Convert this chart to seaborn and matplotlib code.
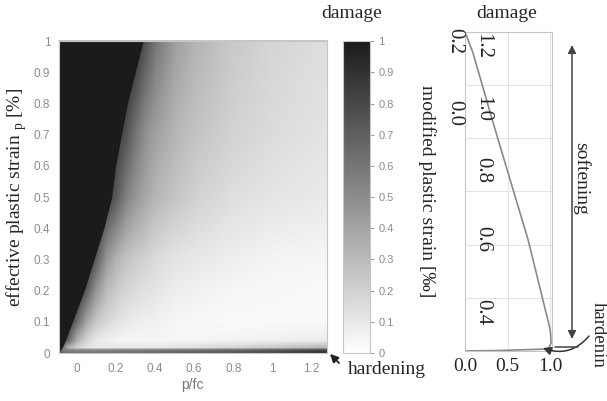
import numpy as np
import pandas as pd
import seaborn as sns
import matplotlib.pyplot as plt
from matplotlib.colors import LinearSegmentedColormap
from matplotlib.image import NonUniformImage

# damage field (rows = plastic strain, cols = p/fc)
grid_x = [-0.09, -0.05, 0.0, 0.05, 0.1, 0.15, 0.2, 0.25, 0.3, 0.35, 0.4, 0.5, 0.6, 0.8, 1.0, 1.28]
grid_y = [0.0, 0.008, 0.016, 0.04, 0.1, 0.2, 0.3, 0.5, 0.7, 1.0]
damage = [
    [0.70, 0.62, 0.60, 0.60, 0.60, 0.61, 0.62, 0.63, 0.64, 0.65, 0.66, 0.68, 0.70, 0.74, 0.80, 0.90],
    [0.60, 0.55, 0.52, 0.52, 0.52, 0.53, 0.54, 0.55, 0.56, 0.57, 0.58, 0.60, 0.62, 0.66, 0.72, 0.82],
    [0.80, 0.35, 0.20, 0.12, 0.10, 0.10, 0.10, 0.10, 0.10, 0.10, 0.10, 0.12, 0.14, 0.18, 0.23, 0.32],
    [0.90, 0.70, 0.35, 0.18, 0.10, 0.07, 0.05, 0.04, 0.04, 0.04, 0.04, 0.04, 0.04, 0.05, 0.06, 0.08],
    [1.00, 0.90, 0.65, 0.38, 0.24, 0.17, 0.13, 0.10, 0.08, 0.07, 0.06, 0.04, 0.03, 0.02, 0.02, 0.02],
    [1.00, 1.00, 0.90, 0.70, 0.45, 0.30, 0.23, 0.18, 0.15, 0.13, 0.11, 0.08, 0.06, 0.04, 0.03, 0.02],
    [1.00, 1.00, 1.00, 0.90, 0.70, 0.45, 0.33, 0.26, 0.22, 0.19, 0.16, 0.12, 0.10, 0.07, 0.05, 0.04],
    [1.00, 1.00, 1.00, 1.00, 1.00, 0.85, 0.72, 0.55, 0.45, 0.38, 0.32, 0.25, 0.20, 0.14, 0.11, 0.09],
    [1.00, 1.00, 1.00, 1.00, 1.00, 1.00, 0.85, 0.75, 0.60, 0.48, 0.41, 0.32, 0.26, 0.19, 0.15, 0.12],
    [1.00, 1.00, 1.00, 1.00, 1.00, 1.00, 1.00, 1.00, 0.90, 0.75, 0.60, 0.42, 0.33, 0.23, 0.18, 0.14],
]

# edge of the fully damaged (black) zone
edge_y = [0.0, 0.02, 0.05, 0.1, 0.2, 0.3, 0.4, 0.5, 0.6, 0.7, 0.8, 0.9, 1.0]
edge_x = [-0.09, -0.07, -0.05, -0.02, 0.04, 0.09, 0.14, 0.18, 0.20, 0.23, 0.26, 0.30, 0.34]

# damage / modified plastic strain curve (right panel)
curve_damage = [0.0, 0.41, 0.976, 1.01, 1.0, 0.74, 0.33, 0.094, 0.024, 0.012]
curve_strain = [0.0, 0.002, 0.0075, 0.03, 0.079, 0.418, 0.858, 1.121, 1.181, 1.19]

cbar_ticks = [0, 0.1, 0.2, 0.3, 0.4, 0.5, 0.6, 0.7, 0.8, 0.9, 1]
x_ticks = [0, 0.2, 0.4, 0.6, 0.8, 1, 1.2]
side_labels = ['1.2', '1.0', '0.8', '0.6', '0.4']

sns.set_style('white')
plt.rcParams['mathtext.fontset'] = 'custom'
plt.rcParams['mathtext.rm'] = 'Liberation Serif'

W, H = 607, 401
fig = plt.figure(figsize=(W / 100, H / 100), dpi=100)


def box(x0, y0, x1, y1):
    return [x0 / W, 1 - y1 / H, (x1 - x0) / W, (y1 - y0) / H]


def px(x, y):
    return x, H - y


serif = 'Liberation Serif'
sans = 'Liberation Sans'
tick_gray = '#8c8c8c'
spine_gray = '#c6c6c6'
cmap = LinearSegmentedColormap.from_list('dmg', ['#ffffff', '#1c1a1a'])

# --- main damage map
ax = fig.add_axes(box(58.7, 41.3, 327, 353))
im = NonUniformImage(ax, interpolation='bilinear', cmap=cmap,
                     extent=(-0.09, 1.278, 0, 1))
im.set_data(grid_x, grid_y, np.array(damage))
im.set_clim(0, 1)
ax.add_image(im)
ax.fill_betweenx(edge_y, -0.1, edge_x, color='#1c1a1a', lw=0)
ax.axhline(1, color=spine_gray, lw=1.4, clip_on=False, zorder=3)
ax.set_xlim(-0.09, 1.278)
ax.set_ylim(0, 1)
ax.set_xticks(x_ticks)
ax.set_xticklabels(['0', '0.2', '0.4', '0.6', '0.8', '1', '1.2'])
ax.set_yticks(cbar_ticks)
ax.set_yticklabels(['0'] + [f'{v:.1f}' for v in cbar_ticks[1:-1]] + ['1'])
ax.tick_params(length=0, labelsize=8.5, colors=tick_gray, pad=6)
ax.tick_params(axis='x', pad=7)
for lab in ax.get_xticklabels() + ax.get_yticklabels():
    lab.set_fontfamily(sans)
for s in ax.spines.values():
    s.set_color(spine_gray)
ax.set_xlabel('p/fc', fontsize=10, color='#777777', family=sans, labelpad=2)
fig.text(17 / W, 1 - 197 / H, r'effective plastic strain ${}_\mathrm{p}$ [%]',
         rotation=90, fontsize=14, family=serif, ha='center', va='center')

# --- colorbar
cax = fig.add_axes(box(343, 41.3, 370, 353))
cb = fig.colorbar(im, cax=cax, ticks=cbar_ticks)
cb.ax.set_yticklabels(['0'] + [f'{v:.1f}' for v in cbar_ticks[1:-1]] + ['1'])
cb.ax.tick_params(length=3, width=0.6, labelsize=8, colors=tick_gray, pad=3)
for lab in cb.ax.get_yticklabels():
    lab.set_fontfamily(sans)
cb.outline.set_edgecolor(spine_gray)

# --- right panel
rax = fig.add_axes(box(465, 32, 552, 351))
df = pd.DataFrame({'damage': curve_damage, 'strain': curve_strain})
sns.lineplot(data=df, x='damage', y='strain', sort=False, ax=rax,
             color='#8a8a8a', lw=1.2)
rax.set_xlim(0, 1.02)
rax.set_ylim(0, 1.2)
rax.set_xticks([0, 0.5, 1.0])
rax.set_xticklabels(['0.0', '0.5', '1.0'], family=serif, fontsize=14)
rax.set_yticks([0, 0.2, 0.4, 0.6, 0.8, 1.0, 1.2])
rax.set_yticklabels([])
rax.grid(True, color='#e4e4e4', lw=0.8)
rax.tick_params(length=0, pad=5)
rax.set_xlabel('')
rax.set_ylabel('')
for s in rax.spines.values():
    s.set_color(spine_gray)

for lab, y in zip(side_labels, [46, 109, 170, 239, 312]):
    fig.text(483 / W, 1 - y / H, lab, rotation=-90, family=serif, fontsize=15,
             ha='center', va='center')
for lab, y in zip(['0.2', '0.0'], [41, 113]):
    fig.text(455 / W, 1 - y / H, lab, rotation=-90, family=serif, fontsize=15,
             ha='center', va='center')

fig.text(427 / W, 1 - 191 / H, 'modified plastic strain [‰]', rotation=-90,
         family=serif, fontsize=14, ha='center', va='center')
fig.text(352 / W, 1 - 14 / H, 'damage', family=serif, fontsize=14,
         ha='center', va='center')
fig.text(507 / W, 1 - 14 / H, 'damage', family=serif, fontsize=14,
         ha='center', va='center')
fig.text(581 / W, 1 - 178 / H, 'softening', rotation=-90, family=serif,
         fontsize=14, ha='center', va='center')
fig.text(607 / W, 1 - 335 / H, 'hardenin', rotation=-90, family=serif,
         fontsize=13.5, ha='right', va='center')
fig.text(387 / W, 1 - 370 / H, 'hardening', family=serif, fontsize=14,
         ha='center', va='center')

# arrows
ax.annotate('', xy=px(328, 352), xytext=px(341, 365), xycoords='figure pixels',
            textcoords='figure pixels', annotation_clip=False,
            arrowprops=dict(arrowstyle='-|>', color='#222222', lw=1.3,
                            mutation_scale=12))
rax.annotate('', xy=px(572, 45), xytext=px(572, 339), xycoords='figure pixels',
             textcoords='figure pixels', annotation_clip=False,
             arrowprops=dict(arrowstyle='<|-|>', color='#444444', lw=1.1,
                             mutation_scale=12, shrinkA=0, shrinkB=0))
fig.add_artist(plt.Line2D([555 / W, 578 / W], [1 - 347 / H, 1 - 347 / H],
                          color='#444444', lw=1.1))
rax.annotate('', xy=px(543, 348), xytext=px(589, 336), xycoords='figure pixels',
             textcoords='figure pixels', annotation_clip=False,
             arrowprops=dict(arrowstyle='-|>', color='#333333', lw=1.1,
                             mutation_scale=12, shrinkA=0, shrinkB=0,
                             connectionstyle='arc3,rad=-0.35'))

fig.savefig('out.png', dpi=100)
